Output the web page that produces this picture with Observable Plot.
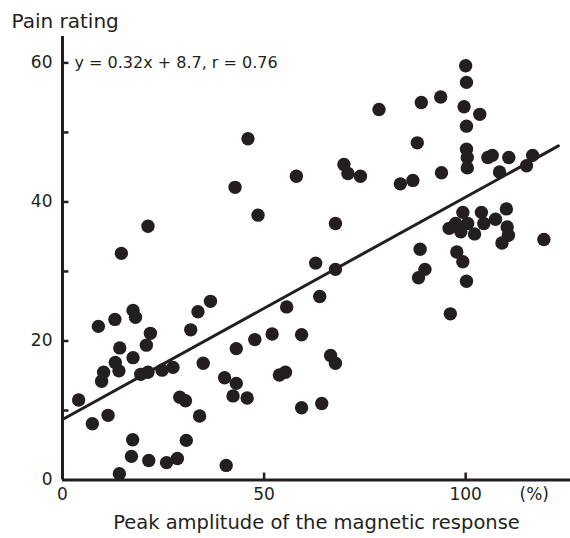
<!DOCTYPE html>
<html>
<head>
<meta charset="utf-8">
<script src="https://cdn.jsdelivr.net/npm/d3@7"></script>
<script src="https://cdn.jsdelivr.net/npm/@observablehq/plot@0.6"></script>
<style>
  html, body { margin: 0; padding: 0; background: #fff; overflow: hidden; }
  #chart svg { display: block; }
</style>
</head>
<body>
<div id="chart"></div>
<script>
// Peak amplitude of the magnetic response (%)
const amplitude = [
  46.0, 42.8, 78.5, 21.2, 14.6, 48.5, 36.7, 33.6, 17.5, 18.1,
  13.0, 8.9, 21.8, 31.8, 47.7, 43.1, 14.2, 20.8, 17.5, 13.1,
  14.0, 10.2, 9.7, 19.4, 21.2, 24.7, 27.4, 34.9, 40.2, 43.1,
  42.3, 45.8, 29.1, 30.5, 34.0, 4.0, 7.4, 11.3, 17.4, 17.1,
  21.4, 25.8, 28.5, 30.7, 14.1, 40.6, 58.0, 69.8, 70.8, 73.9,
  83.8, 86.9, 94.0, 67.7, 88.7, 89.9, 88.3, 62.8, 67.7, 63.8,
  55.6, 52.0, 59.3, 96.2, 66.5, 67.7, 53.8, 55.3, 59.3, 64.3,
  100.0, 100.2, 93.8, 89.0, 99.6, 103.5, 100.2, 88.0, 100.2, 100.4,
  100.4, 105.5, 106.6, 110.7, 116.6, 115.1, 108.4, 99.3, 103.9, 110.1,
  107.4, 95.9, 98.8, 100.5, 102.2, 104.5, 110.3, 110.6, 109.0, 119.4,
  97.8, 99.3, 100.2, 97.5
];
// Pain rating
const pain = [
  49.1, 42.1, 53.3, 36.5, 32.6, 38.1, 25.7, 24.2, 24.4, 23.4,
  23.1, 22.1, 21.1, 21.6, 20.2, 18.9, 19.0, 19.4, 17.6, 16.9,
  15.7, 15.5, 14.2, 15.2, 15.5, 15.8, 16.2, 16.8, 14.7, 13.9,
  12.1, 11.8, 11.9, 11.4, 9.2, 11.5, 8.1, 9.3, 5.8, 3.4,
  2.8, 2.5, 3.1, 5.7, 0.9, 2.1, 43.7, 45.4, 44.1, 43.7,
  42.6, 43.1, 44.2, 36.9, 33.2, 30.3, 29.1, 31.2, 30.3, 26.4,
  24.9, 21.0, 20.9, 23.9, 17.9, 16.8, 15.1, 15.5, 10.4, 11.0,
  59.6, 57.2, 55.1, 54.3, 53.7, 52.6, 50.9, 48.5, 47.6, 46.4,
  44.9, 46.4, 46.7, 46.4, 46.7, 45.2, 44.3, 38.5, 38.5, 39.0,
  37.5, 36.2, 35.7, 36.9, 35.4, 36.9, 36.4, 35.2, 34.1, 34.6,
  32.8, 31.4, 28.6, 36.9
];

// Regression
const slope = 0.32;
const intercept = 8.7;
const fitRange = [0, 123];
const equationText = "y = 0.32x + 8.7, r = 0.76";

// Axes
const yLabelTicks = [0, 20, 40, 60];
const yMinorTicks = [10, 20, 30, 40, 50, 60];
const xTickMarks = [50, 100];
const xLabelTicks = [0, 50, 100, 117];
const xTickLabels = ["0", "50", "100", "(%)"];
const xTitle = "Peak amplitude of the magnetic response";
const yTitle = "Pain rating";

const points = amplitude.map((x, i) => ({x, y: pain[i]}));
const fit = fitRange.map(x => ({x, y: slope * x + intercept}));

const ink = "#231f20";
const font = "DejaVu Sans, Verdana, sans-serif";

const chart = Plot.plot({
  width: 570,
  height: 538,
  marginLeft: 62,
  marginRight: 0,
  marginTop: 36,
  marginBottom: 58.5,
  x: {domain: [0, 126]},
  y: {domain: [0, 63.8]},
  style: {fontFamily: font, color: ink, background: "white"},
  marks: [
    Plot.line(fit, {x: "x", y: "y", stroke: ink, strokeWidth: 3}),
    Plot.dot(points, {x: "x", y: "y", r: 6.7, fill: ink, stroke: "none"}),
    // inward tick marks (length given in axis units: ~6px)
    Plot.ruleY(yMinorTicks, {x1: 0, x2: 1.6, stroke: ink, strokeWidth: 2.5}),
    Plot.ruleX(xTickMarks, {y1: 0, y2: 1.0, stroke: ink, strokeWidth: 2.5}),
    // tick labels
    Plot.axisY(yLabelTicks, {tickSize: 0, tickPadding: 10, fontSize: 17, label: null, fill: ink}),
    Plot.axisX(xLabelTicks, {tickSize: 0, tickPadding: 8, fontSize: 17, label: null, fill: ink,
      tickFormat: d => xTickLabels[xLabelTicks.indexOf(d)]}),
    // axis lines
    Plot.ruleX([0], {stroke: ink, strokeWidth: 3}),
    Plot.ruleY([0], {stroke: ink, strokeWidth: 3, x1: 0, x2: 126}),
    // titles
    Plot.text([yTitle], {frameAnchor: "top-left", dx: -51, dy: -15, lineAnchor: "middle", textAnchor: "start", fontSize: 20, fill: ink}),
    Plot.text([xTitle], {frameAnchor: "bottom", dy: 43, lineAnchor: "middle", fontSize: 19.5, fill: ink}),
    Plot.text([equationText], {y: [60], frameAnchor: "left", dx: 12, textAnchor: "start", lineAnchor: "middle", fontSize: 16, fill: ink})
  ]
});

document.getElementById("chart").append(chart);
</script>
</body>
</html>
